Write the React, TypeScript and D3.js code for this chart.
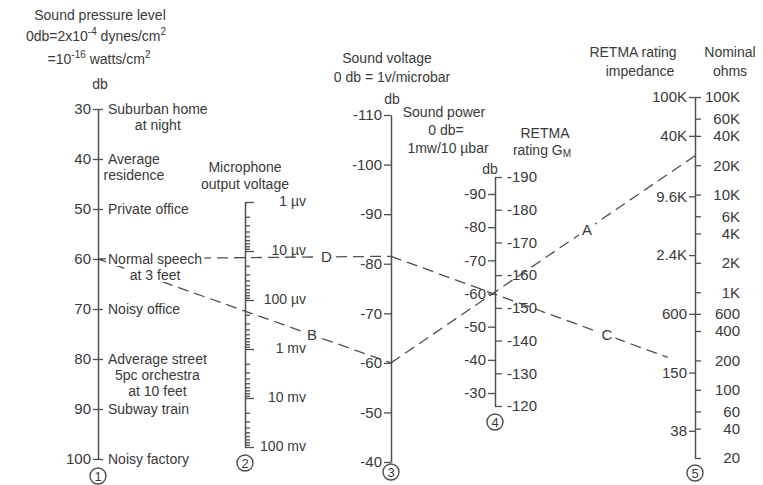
import React, { useEffect, useRef } from "react";
import * as d3 from "d3";

const W = 763;
const H = 485;

// scale 1: sound pressure level, db
const pressureTicks = [30, 40, 50, 60, 70, 80, 90, 100];
const pressureNotes: [number, string[]][] = [
  [30, ["Suburban home", "at night"]],
  [40, ["Average", "residence"]],
  [50, ["Private office"]],
  [60, ["Normal speech", "at 3 feet"]],
  [70, ["Noisy office"]],
  [80, ["Adverage street", "5pc orchestra", "at 10 feet"]],
  [90, ["Subway train"]],
  [100, ["Noisy factory"]],
];

// scale 2: microphone output voltage (volts)
const micDecades = [1e-6, 1e-5, 1e-4, 1e-3, 1e-2, 1e-1];
const micLabels = ["1 µv", "10 µv", "100 µv", "1 mv", "10 mv", "100 mv"];

// scale 3: sound voltage, db
const voltageTicks = [-110, -100, -90, -80, -70, -60, -50, -40];

// scale 4: sound power db (left) and RETMA rating Gm (right)
const powerTicks = [-90, -80, -70, -60, -50, -40, -30];
const gmTicks = [-190, -180, -170, -160, -150, -140, -130, -120];

// scale 5: RETMA impedance (left) and nominal ohms (right)
const impedanceTicks = [100000, 40000, 9600, 2400, 600, 150, 38];
const impedanceLabels = ["100K", "40K", "9.6K", "2.4K", "600", "150", "38"];
const ohmTicks = [100000, 60000, 40000, 20000, 10000, 6000, 4000, 2000, 1000, 600, 400, 200, 100, 60, 40, 20];
const ohmLabels = ["100K", "60K", "40K", "20K", "10K", "6K", "4K", "2K", "1K", "600", "400", "200", "100", "60", "40", "20"];

// worked examples drawn across the nomograph
const exampleNames = ["D", "B", "C", "A"];
const exampleFrom: [string, number][] = [["pressure", 60], ["pressure", 60], ["voltage", -81.5], ["voltage", -60]];
const exampleTo: [string, number][] = [["voltage", -81.5], ["voltage", -60], ["ohms", 170], ["ohms", 25000]];
const exampleLabelAt = [0.78, 0.73, 0.71, 0.645];
const exampleDrawnTo = [1, 1, 0.91, 1];

const INK = "#3a3a3a";
const LINE = "#505050";
const FONT = "'Liberation Sans', Arial, sans-serif";

export default function App() {
  const svgRef = useRef<SVGSVGElement>(null);

  useEffect(() => {
    const svg = d3.select(svgRef.current);
    svg.selectAll("*").remove();

    const axisX: Record<string, number> = { pressure: 98, mic: 245, voltage: 391, power: 495, ohms: 695 };

    const yPressure = d3.scaleLinear().domain([30, 100]).range([109, 459]);
    const yMic = d3.scaleLog().domain([1e-6, 0.1]).range([202, 447]);
    const yVoltage = d3.scaleLinear().domain([-110, -40]).range([115, 462]);
    const yPower = d3.scaleLinear().domain([-90, -30]).range([194, 393]);
    const yGm = d3.scaleLinear().domain([-190, -120]).range([177, 406]);
    const yOhms = d3.scaleLog().domain([100000, 20]).range([97, 458]);
    const scales: Record<string, (v: number) => number> = {
      pressure: yPressure, voltage: yVoltage, ohms: yOhms,
    };

    const neg = (d: any) => `-${Math.abs(d)}`;

    // white patch behind a text so dashed lines pass under it
    const backing = (g: any, t: any, pad = 1) => {
      const b = (t.node() as SVGTextElement).getBBox();
      g.insert("rect", () => t.node())
        .attr("x", b.x - pad).attr("y", b.y + 2)
        .attr("width", b.width + 2 * pad).attr("height", b.height - 3)
        .attr("fill", "#fff");
    };

    // --- dashed example lines ---
    const lines = svg.append("g").attr("font-family", FONT);
    exampleNames.forEach((name, i) => {
      const [fa, fv] = exampleFrom[i];
      const [ta, tv] = exampleTo[i];
      const x1 = axisX[fa], y1 = scales[fa](fv);
      const x2 = axisX[ta], y2 = scales[ta](tv);
      const e = exampleDrawnTo[i];
      lines.append("line")
        .attr("x1", x1).attr("y1", y1)
        .attr("x2", x1 + (x2 - x1) * e).attr("y2", y1 + (y2 - y1) * e)
        .attr("stroke", LINE).attr("stroke-width", 1.3)
        .attr("stroke-dasharray", "11,6");
    });
    exampleNames.forEach((name, i) => {
      const [fa, fv] = exampleFrom[i];
      const [ta, tv] = exampleTo[i];
      const x1 = axisX[fa], y1 = scales[fa](fv);
      const x2 = axisX[ta], y2 = scales[ta](tv);
      const t = exampleLabelAt[i];
      const lab = lines.append("text")
        .attr("x", x1 + (x2 - x1) * t).attr("y", y1 + (y2 - y1) * t)
        .attr("dy", "0.35em").attr("text-anchor", "middle")
        .attr("font-size", 15).attr("fill", INK)
        .text(name);
      backing(lines, lab, 3);
    });

    // --- notes beside scale 1 (under the axes so the axis line stays whole) ---
    const notes = svg.append("g").attr("font-family", FONT).attr("font-size", 14).attr("fill", INK);
    pressureNotes.forEach(([db, txt]) => {
      const y0 = yPressure(db);
      const first = notes.append("text")
        .attr("x", 108).attr("y", y0).attr("dy", "0.35em")
        .text(txt[0]);
      backing(notes, first, 2);
      const w = (first.node() as SVGTextElement).getComputedTextLength();
      txt.slice(1).forEach((s, j) => {
        const t = notes.append("text")
          .attr("x", 108 + w / 2).attr("y", y0 + 16 * (j + 1)).attr("dy", "0.35em")
          .attr("text-anchor", "middle")
          .text(s);
        backing(notes, t, 6);
      });
    });

    const styleAxis = (g: any, size = 14) => {
      g.attr("font-family", FONT).attr("font-size", size);
      g.selectAll("path").attr("stroke", LINE).attr("stroke-width", 1.5);
      g.selectAll("line").attr("stroke", LINE).attr("stroke-width", 1.3);
      g.selectAll("text").attr("fill", INK);
    };

    // --- scale 1 ---
    const a1 = svg.append("g").attr("transform", `translate(${axisX.pressure},0)`);
    a1.call(d3.axisLeft(yPressure).tickValues(pressureTicks).tickSize(5).tickSizeOuter(0).tickPadding(2) as any);
    const a1r = svg.append("g").attr("transform", `translate(${axisX.pressure},0)`);
    a1r.call(d3.axisRight(yPressure).tickValues(pressureTicks).tickSize(5).tickSizeOuter(0).tickFormat(() => "") as any);
    a1r.select(".domain").remove();
    styleAxis(a1, 15);
    styleAxis(a1r);

    // --- scale 2 (log) ---
    const micMinor: number[] = [];
    micDecades.slice(0, -1).forEach(d => {
      for (let k = 2; k <= 9; k++) micMinor.push(d * k);
    });
    const a2m = svg.append("g").attr("transform", `translate(${axisX.mic},0)`);
    a2m.call(d3.axisRight(yMic).tickValues(micMinor).tickSize(5).tickSizeOuter(0).tickFormat(() => "") as any);
    const a2 = svg.append("g").attr("transform", `translate(${axisX.mic},0)`);
    a2.call(d3.axisRight(yMic).tickValues(micDecades).tickSize(9).tickSizeOuter(0)
      .tickFormat((d, i) => micLabels[i]) as any);
    a2.selectAll(".tick text").attr("text-anchor", "end").attr("x", 61).attr("dy", "0.25em");
    a2m.select(".domain").remove();
    styleAxis(a2m);
    styleAxis(a2, 14);

    // --- scale 3 ---
    const a3 = svg.append("g").attr("transform", `translate(${axisX.voltage},0)`);
    a3.call(d3.axisLeft(yVoltage).tickValues(voltageTicks).tickSize(7).tickSizeOuter(0).tickPadding(2)
      .tickFormat(neg) as any);
    styleAxis(a3, 15);

    // --- scale 4 ---
    const a4r = svg.append("g").attr("transform", `translate(${axisX.power},0)`);
    a4r.call(d3.axisRight(yGm).tickValues(gmTicks).tickSize(7).tickSizeOuter(0).tickPadding(5)
      .tickFormat(neg) as any);
    const a4l = svg.append("g").attr("transform", `translate(${axisX.power},0)`);
    a4l.call(d3.axisLeft(yPower).tickValues(powerTicks).tickSize(7).tickSizeOuter(0).tickPadding(2)
      .tickFormat(neg) as any);
    a4l.select(".domain").remove();
    styleAxis(a4r, 15);
    styleAxis(a4l, 15);

    // --- scale 5 (log) ---
    const a5l = svg.append("g").attr("transform", `translate(${axisX.ohms},0)`);
    a5l.call(d3.axisLeft(yOhms).tickValues(impedanceTicks).tickSize(6).tickSizeOuter(0).tickPadding(2)
      .tickFormat((d, i) => impedanceLabels[i]) as any);
    const a5r = svg.append("g").attr("transform", `translate(${axisX.ohms},0)`);
    a5r.call(d3.axisRight(yOhms).tickValues(ohmTicks).tickSize(6).tickSizeOuter(0)
      .tickFormat((d, i) => ohmLabels[i]) as any);
    a5r.selectAll(".tick text").attr("text-anchor", "end").attr("x", 45);
    a5r.select(".domain").remove();
    styleAxis(a5l, 15);
    styleAxis(a5r, 15);

    // --- circled scale numbers ---
    const circled: [string, number, number][] = [
      ["1", axisX.pressure, 476], ["2", axisX.mic, 463], ["3", axisX.voltage, 472],
      ["4", axisX.power, 422], ["5", axisX.ohms, 473],
    ];
    circled.forEach(([n, x, y]) => {
      svg.append("circle").attr("cx", x).attr("cy", y).attr("r", 8)
        .attr("fill", "#fff").attr("stroke", LINE).attr("stroke-width", 1.4);
      svg.append("text").attr("x", x).attr("y", y).attr("dy", "0.36em")
        .attr("text-anchor", "middle").attr("font-family", FONT).attr("font-size", 13)
        .attr("fill", INK).text(n);
    });

    // --- headers ---
    const hdr = svg.append("g").attr("font-family", FONT).attr("font-size", 14)
      .attr("fill", INK).attr("text-anchor", "middle");
    const put = (x: number, y: number, s: string, size = 14) =>
      hdr.append("text").attr("x", x).attr("y", y).attr("font-size", size).text(s);

    put(100, 20, "Sound pressure level");
    const l2 = hdr.append("text").attr("x", 96).attr("y", 41);
    l2.append("tspan").text("0db=2x10");
    l2.append("tspan").attr("dy", -6).attr("font-size", 10).text("-4");
    l2.append("tspan").attr("dy", 6).text(" dynes/cm");
    l2.append("tspan").attr("dy", -6).attr("font-size", 10).text("2");
    const l3 = hdr.append("text").attr("x", 99).attr("y", 64);
    l3.append("tspan").text("=10");
    l3.append("tspan").attr("dy", -6).attr("font-size", 10).text("-16");
    l3.append("tspan").attr("dy", 6).text(" watts/cm");
    l3.append("tspan").attr("dy", -6).attr("font-size", 10).text("2");
    put(100, 89, "db");

    put(245, 172, "Microphone");
    put(245, 189, "output voltage");

    put(387, 63, "Sound voltage");
    put(392, 82, "0 db = 1v/microbar");
    put(392, 104, "db");

    put(444, 117, "Sound power");
    put(446, 135, "0 db=");
    put(448, 153, "1mw/10 µbar");

    put(545, 138, "RETMA");
    const gm = hdr.append("text").attr("x", 542).attr("y", 155);
    gm.append("tspan").text("rating G");
    gm.append("tspan").attr("font-size", 10).attr("dy", 2).text("M");
    put(490, 174, "db");

    put(633, 57, "RETMA rating");
    put(640, 76, "impedance");
    put(730, 57, "Nominal");
    put(730, 76, "ohms");
  }, []);

  return (
    <svg
      ref={svgRef}
      width={W}
      height={H}
      style={{ position: "absolute", left: 0, top: 0, background: "#fff" }}
    />
  );
}
